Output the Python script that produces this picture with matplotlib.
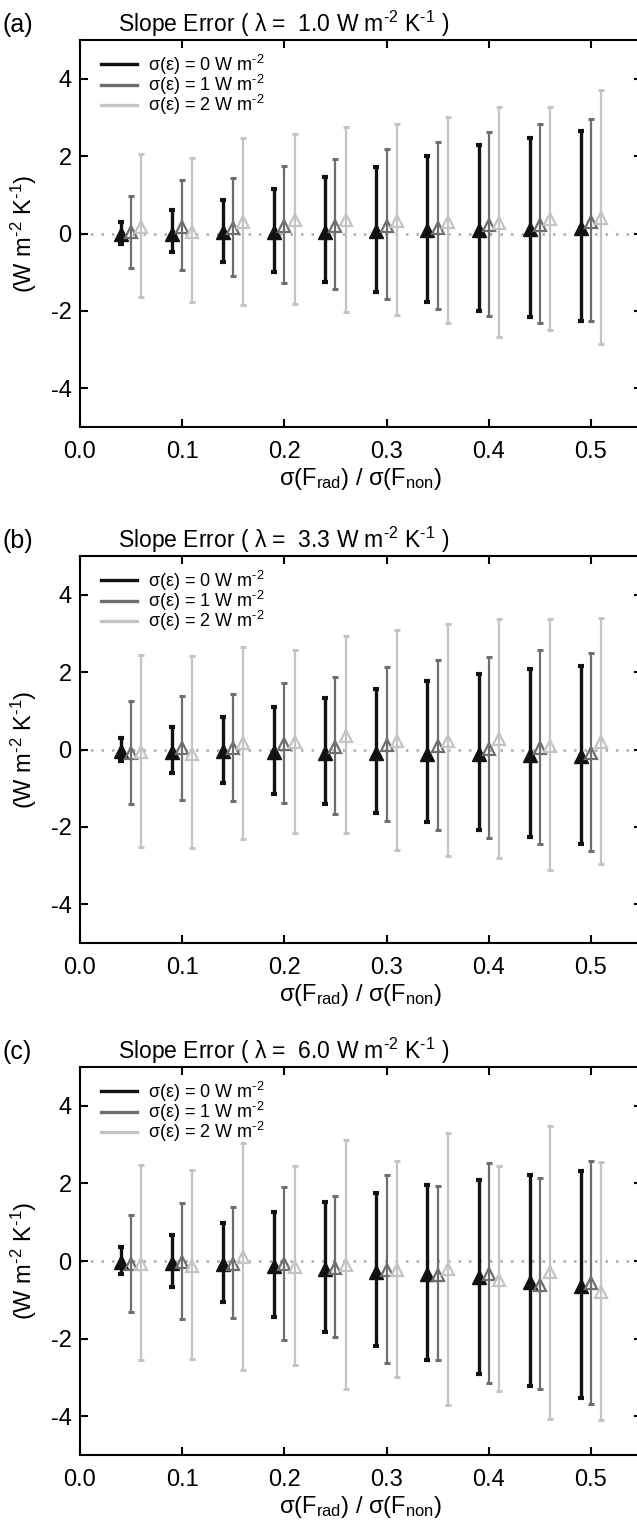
import numpy as np
import matplotlib
matplotlib.use('Agg')
import matplotlib.pyplot as plt
from matplotlib.lines import Line2D

plt.rcParams['font.family'] = ['Liberation Sans', 'DejaVu Sans']
plt.rcParams['mathtext.fontset'] = 'custom'
plt.rcParams['mathtext.rm'] = 'Liberation Sans'
plt.rcParams['mathtext.it'] = 'Liberation Sans'
plt.rcParams['axes.unicode_minus'] = False

# ratio sigma(F_rad)/sigma(F_non), one group per value
ratio = [0.05, 0.10, 0.15, 0.20, 0.25, 0.30, 0.35, 0.40, 0.45, 0.50]
noise_labels = ['0', '1', '2']
lambdas = ['1.0', '3.3', '6.0']
panel_tags = ['(a)', '(b)', '(c)']

# panel (a), lambda = 1.0 : mean, lower end, upper end for sigma(eps)=0,1,2
a_mean0 = [0.00, 0.00, 0.03, 0.03, 0.05, 0.07, 0.09, 0.09, 0.11, 0.15]
a_lo0 = [-0.26, -0.49, -0.73, -0.99, -1.25, -1.52, -1.78, -2.00, -2.15, -2.25]
a_hi0 = [0.31, 0.60, 0.87, 1.14, 1.45, 1.73, 2.00, 2.28, 2.48, 2.65]
a_mean1 = [0.03, 0.17, 0.15, 0.20, 0.20, 0.20, 0.15, 0.22, 0.22, 0.31]
a_lo1 = [-0.88, -0.95, -1.09, -1.29, -1.44, -1.69, -1.96, -2.12, -2.32, -2.27]
a_hi1 = [0.97, 1.38, 1.44, 1.75, 1.92, 2.18, 2.37, 2.61, 2.82, 2.96]
a_mean2 = [0.18, 0.04, 0.30, 0.34, 0.34, 0.33, 0.31, 0.28, 0.37, 0.39]
a_lo2 = [-1.65, -1.78, -1.84, -1.81, -2.02, -2.10, -2.32, -2.67, -2.49, -2.86]
a_hi2 = [2.06, 1.94, 2.46, 2.56, 2.75, 2.84, 3.01, 3.28, 3.28, 3.70]

# panel (b), lambda = 3.3
b_mean0 = [-0.04, -0.06, -0.04, -0.07, -0.09, -0.09, -0.11, -0.11, -0.15, -0.17]
b_lo0 = [-0.30, -0.60, -0.87, -1.14, -1.41, -1.65, -1.87, -2.08, -2.25, -2.44]
b_hi0 = [0.30, 0.57, 0.84, 1.09, 1.33, 1.56, 1.77, 1.95, 2.09, 2.17]
b_mean1 = [-0.09, 0.03, 0.04, 0.15, 0.07, 0.11, 0.09, 0.02, 0.04, -0.10]
b_lo1 = [-1.40, -1.31, -1.34, -1.37, -1.67, -1.84, -2.07, -2.29, -2.43, -2.63]
b_hi1 = [1.26, 1.39, 1.44, 1.72, 1.87, 2.13, 2.31, 2.39, 2.56, 2.49]
b_mean2 = [-0.06, -0.11, 0.17, 0.20, 0.36, 0.21, 0.23, 0.26, 0.10, 0.19]
b_lo2 = [-2.53, -2.55, -2.31, -2.17, -2.17, -2.60, -2.74, -2.80, -3.11, -2.97]
b_hi2 = [2.44, 2.42, 2.66, 2.58, 2.93, 3.08, 3.24, 3.37, 3.36, 3.40]

# panel (c), lambda = 6.0
c_mean0 = [-0.03, -0.05, -0.07, -0.13, -0.20, -0.28, -0.34, -0.41, -0.54, -0.64]
c_lo0 = [-0.34, -0.68, -1.05, -1.44, -1.82, -2.19, -2.56, -2.91, -3.23, -3.53]
c_hi0 = [0.36, 0.68, 0.98, 1.27, 1.53, 1.74, 1.96, 2.09, 2.22, 2.32]
c_mean1 = [-0.09, -0.03, -0.07, -0.09, -0.18, -0.24, -0.35, -0.34, -0.62, -0.56]
c_lo1 = [-1.31, -1.50, -1.48, -2.03, -1.97, -2.62, -2.56, -3.15, -3.29, -3.68]
c_hi1 = [1.19, 1.50, 1.40, 1.91, 1.68, 2.22, 1.94, 2.52, 2.14, 2.58]
c_mean2 = [-0.09, -0.13, 0.10, -0.15, -0.11, -0.22, -0.20, -0.50, -0.28, -0.79]
c_lo2 = [-2.56, -2.52, -2.82, -2.69, -3.30, -3.00, -3.72, -3.36, -4.06, -4.10]
c_hi2 = [2.47, 2.35, 3.03, 2.45, 3.12, 2.58, 3.31, 2.44, 3.48, 2.56]

panels = [
    [(a_mean0, a_lo0, a_hi0), (a_mean1, a_lo1, a_hi1), (a_mean2, a_lo2, a_hi2)],
    [(b_mean0, b_lo0, b_hi0), (b_mean1, b_lo1, b_hi1), (b_mean2, b_lo2, b_hi2)],
    [(c_mean0, c_lo0, c_hi0), (c_mean1, c_lo1, c_hi1), (c_mean2, c_lo2, c_hi2)],
]

colors = ['#111111', '#6e6e6e', '#c4c4c4']
offsets = [-0.01, 0.0, 0.01]
lws = [2.4, 1.6, 1.6]

m2 = r'$^{\text{-}2}$'
k1 = r'$^{\text{-}1}$'

W, H = 637, 1523
fig = plt.figure(figsize=(W / 100, H / 100), dpi=100)

# axes boxes in pixels: top, bottom
boxes = [(40, 427), (556, 943), (1067, 1455)]
x_left, x_right = 80, 642

for p in range(3):
    top, bot = boxes[p]
    ax = fig.add_axes([x_left / W, 1 - bot / H, (x_right - x_left) / W, (bot - top) / H])
    ax.axhline(0, color='#aaaaaa', lw=1.8, ls=(0, (1, 3.2)), zorder=0)
    for k in range(3):
        mean, lo, hi = [np.array(v) for v in panels[p][k]]
        x = np.array(ratio) + offsets[k]
        yerr = [mean - lo, hi - mean]
        if k == 0:
            mk = dict(marker='^', ms=9.5, mfc=colors[k], mec=colors[k])
        else:
            mk = dict(marker='^', ms=8.5, mfc='none', mec=colors[k], mew=1.6)
        ax.errorbar(x, mean, yerr=yerr, fmt='none', ecolor=colors[k],
                    elinewidth=lws[k], capsize=2.2, capthick=lws[k] + 0.6, zorder=2 + k)
        ax.plot(x, mean, ls='none', zorder=3 + k, **mk)
    ax.set_xlim(0, 0.55)
    ax.set_ylim(-5, 5)
    ax.set_xticks([0.0, 0.1, 0.2, 0.3, 0.4, 0.5])
    ax.set_xticklabels(['%.1f' % v for v in [0.0, 0.1, 0.2, 0.3, 0.4, 0.5]])
    ax.set_yticks([-4, -2, 0, 2, 4])
    ax.tick_params(direction='in', length=6, width=1.5, top=True, right=True,
                   labelsize=17, pad=10)
    ax.tick_params(axis='y', pad=6)
    for s in ax.spines.values():
        s.set_linewidth(1.5)
    ax.set_xlabel(r'$\sigma$(F$_{\rm rad}$) / $\sigma$(F$_{\rm non}$)', fontsize=17, labelpad=2)

    handles = [Line2D([], [], color=colors[k], lw=2.4) for k in range(3)]
    labels = ['σ(ε) = %s W m%s' % (n, m2) for n in noise_labels]
    ax.legend(handles, labels, loc='upper left', frameon=False, fontsize=13,
              handlelength=2.0, handletextpad=0.6, labelspacing=-0.22,
              borderaxespad=0.3, bbox_to_anchor=(0.015, 1.0))

    fig.text(24 / W, 1 - (top + bot) / 2 / H, '(W m%s K%s)' % (m2, k1),
             rotation=90, ha='center', va='center', fontsize=17)
    fig.text(118 / W, 1 - (top - 8) / H,
             'Slope Error ( λ =  %s W m%s K%s )' % (lambdas[p], m2, k1),
             ha='left', va='baseline', fontsize=16.5)
    fig.text(3 / W, 1 - (top - 8) / H, panel_tags[p], ha='left', va='baseline', fontsize=18)

fig.savefig('out.png', dpi=100, facecolor='white')
